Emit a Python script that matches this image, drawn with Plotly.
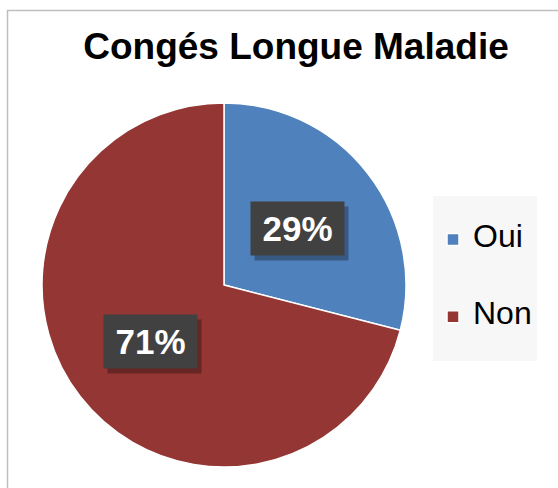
import math
import plotly.graph_objects as go

# ---- data ----
labels = ["Oui", "Non"]
values = [29, 71]
colors = ["#4F81BD", "#943634"]
title_text = "Congés Longue Maladie"

W, H = 558, 488
FONT = "Arial, Liberation Sans, sans-serif"

# pie domain (paper coords)
dom_x = [42 / W, 406 / W]
dom_y = [1 - 467 / H, 1 - 103 / H]

fig = go.Figure()
fig.add_trace(go.Pie(
    labels=[f"&nbsp;<br><span style='font-size:32px'>{l}</span><br>&nbsp;" for l in labels],
    values=values,
    marker=dict(colors=colors, line=dict(color="white", width=1.5)),
    sort=False,
    direction="clockwise",
    rotation=0,
    textinfo="none",
    hoverinfo="label+percent",
    domain=dict(x=dom_x, y=dom_y),
    showlegend=True,
))

# label boxes placed from the data via pie geometry
cx = (dom_x[0] + dom_x[1]) / 2
cy = (dom_y[0] + dom_y[1]) / 2
R = min((dom_x[1] - dom_x[0]) * W, (dom_y[1] - dom_y[0]) * H) / 2
total = sum(values)
cum = 0
annotations = []
for v in values:
    mid = (cum + v / 2) / total * 2 * math.pi
    cum += v
    ax = cx + 0.51 * R * math.sin(mid) / W
    ay = cy + 0.51 * R * math.cos(mid) / H
    pct = f"{round(v / total * 100)}%"
    # shadow
    annotations.append(dict(
        x=ax, y=ay, xref="paper", yref="paper", text=" ", showarrow=False,
        xanchor="center", yanchor="middle",
        width=91, height=51, bgcolor="rgba(0,0,0,0.30)", xshift=4, yshift=-5,
    ))
    annotations.append(dict(
        x=ax, y=ay, xref="paper", yref="paper", text=f"<b>{pct}</b>", showarrow=False,
        xanchor="center", yanchor="middle",
        width=91, height=51, bgcolor="#414141",
        font=dict(family=FONT, size=35, color="white"),
    ))

fig.update_layout(
    width=W, height=H,
    margin=dict(l=0, r=0, t=0, b=0),
    paper_bgcolor="white",
    plot_bgcolor="white",
    title=dict(
        text=f"<b>{title_text}</b>",
        font=dict(family=FONT, size=37, color="black"),
        x=296 / W, xanchor="center", xref="container",
        y=1 - 46 / H, yanchor="middle", yref="container",
    ),
    legend=dict(
        x=433 / W, y=1 - 196 / H, xanchor="left", yanchor="top",
        bgcolor="#f7f7f7", borderwidth=0,
        font=dict(family=FONT, size=19, color="black"),
        valign="middle",
    ),
    annotations=annotations,
    shapes=[dict(
        type="rect", xref="paper", yref="paper",
        x0=7.5 / W, x1=1.05, y0=-0.05, y1=1 - 10.5 / H,
        line=dict(color="#BFBFBF", width=1.5), fillcolor="rgba(0,0,0,0)",
        layer="below",
    )],
)

fig.write_html(
    "out.html",
    config={"displayModeBar": False},
    post_script="document.body.style.margin='0px';",
)
